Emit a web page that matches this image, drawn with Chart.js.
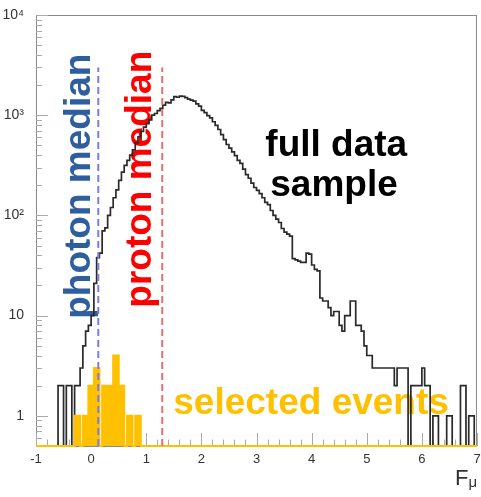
<!DOCTYPE html>
<html>
<head>
<meta charset="utf-8">
<script src="https://cdn.jsdelivr.net/npm/chart.js@4.4.1/dist/chart.umd.min.js"></script>
<style>
  html, body { margin: 0; padding: 0; background: #fff; }
  canvas { display: block; }
</style>
</head>
<body>
<canvas id="fmuChart" width="481" height="497"></canvas>
<script>
// F_mu distribution: full data sample vs selected events, log y

// histogram binning (160 bins from -1 to 7)
const binStart = -1;
const binWidth = 0.05;

// full data sample, counts per bin
const fullCounts = [
    0, 0, 0, 0, 0, 0, 0, 0, 2, 2,
    0, 2, 2, 0, 2, 2, 3, 5, 7, 8,
    10, 21, 38, 42, 70, 75, 100, 120, 150, 180,
    224, 270, 316, 355, 400, 450, 530, 607, 690, 760,
    825, 900, 1000, 1040, 1110, 1170, 1260, 1340, 1330, 1420,
    1530, 1510, 1550, 1540, 1500, 1450, 1413, 1380, 1300, 1230,
    1120, 1060, 990, 940, 860, 790, 720, 640, 570, 510,
    470, 430, 395, 355, 330, 290, 255, 235, 210, 190,
    178, 165, 150, 135, 128, 112, 100, 92, 85, 74,
    68, 65, 62, 37, 36, 35, 34, 34, 42, 41,
    32, 29, 28, 15, 14, 14, 12, 10, 11, 11,
    8, 7, 10, 10, 14, 14, 8, 8, 7, 5,
    4, 4, 3, 3, 3, 3, 3, 3, 3, 3,
    2, 3, 3, 3, 3, 0, 2, 2, 2, 2,
    3, 2, 2, 0, 1, 1, 0, 0, 0, 1,
    1, 0, 0, 0, 2, 2, 0, 1, 1, 0
];

// selected events, counts per bin
const selectedCounts = [
    0, 0, 0, 0, 0, 0, 0, 0, 0, 0,
    0, 0, 0, 0, 1, 1, 0, 1, 1, 2,
    2, 3, 3, 0, 2, 2, 2, 2, 4, 4,
    2, 2, 0, 1, 1, 0, 1, 1, 0, 0,
    0, 0, 0, 0, 0, 0, 0, 0, 0, 0,
    0, 0, 0, 0, 0, 0, 0, 0, 0, 0,
    0, 0, 0, 0, 0, 0, 0, 0, 0, 0,
    0, 0, 0, 0, 0, 0, 0, 0, 0, 0,
    0, 0, 0, 0, 0, 0, 0, 0, 0, 0,
    0, 0, 0, 0, 0, 0, 0, 0, 0, 0,
    0, 0, 0, 0, 0, 0, 0, 0, 0, 0,
    0, 0, 0, 0, 0, 0, 0, 0, 0, 0,
    0, 0, 0, 0, 0, 0, 0, 0, 0, 0,
    0, 0, 0, 0, 0, 0, 0, 0, 0, 0,
    0, 0, 0, 0, 0, 0, 0, 0, 0, 0,
    0, 0, 0, 0, 0, 0, 0, 0, 0, 0
];

// median markers
const photonMedian = 0.13;
const protonMedian = 1.29;
const medianTop = 3000;

// axes
const xTickValues = [-1, 0, 1, 2, 3, 4, 5, 6, 7];
const xTickLabels = ["-1", "0", "1", "2", "3", "4", "5", "6", "7"];
const yTickValues = [1, 10, 100, 1000, 10000];
const yTickLabels = ["1", "10", "10\u00b2", "10\u00b3", "10\u2074"];
const yMin = 0.5;
const yMax = 10000;

// text placed in data coordinates
const notes = [
    { text: "photon median", x: -0.02, y: 9.3, color: "#2e5e9e", rotate: true },
    { text: "proton median", x: 1.09, y: 12, color: "#ff0000", rotate: true },
    { text: "full data", x: 3.16, y: 389, color: "#000000" },
    { text: "sample", x: 3.25, y: 155, color: "#000000" },
    { text: "selected events", x: 1.49, y: 1.05, color: "#ffc000" }
];

const FONT = "'Liberation Sans', Arial, sans-serif";

// histogram counts -> stepped line points (left bin edges, plus closing edge)
const toSteps = counts => {
    const pts = counts.map((c, i) => ({ x: binStart + i * binWidth, y: Math.max(c, yMin) }));
    pts.push({ x: binStart + counts.length * binWidth, y: Math.max(counts[counts.length - 1], yMin) });
    return pts;
};

// ROOT-like frame, inner ticks, annotations and axis title
const rootStyle = {
    id: "rootStyle",
    beforeDatasetsDraw(chart) {
        const { ctx, chartArea: a, scales: { x, y } } = chart;
        ctx.save();

        ctx.strokeStyle = "#8a8a8a";
        ctx.lineWidth = 1;
        ctx.strokeRect(a.left + 0.5, a.top + 0.5, a.right - a.left - 1, a.bottom - a.top);

        ctx.strokeStyle = "#aaaaaa";
        ctx.beginPath();
        for (let k = 0; k <= 40; k++) {
            const px = Math.round(x.getPixelForValue(-1 + k * 0.2)) + 0.5;
            const len = k % 5 === 0 ? 13 : 6.5;
            ctx.moveTo(px, a.bottom);
            ctx.lineTo(px, a.bottom - len);
        }
        for (let e = -1; e <= 4; e++) {
            for (let m = 1; m <= 9; m++) {
                const v = m * Math.pow(10, e);
                if (v < yMin - 1e-9 || v > yMax + 1e-9) continue;
                const py = Math.round(y.getPixelForValue(v)) + 0.5;
                ctx.moveTo(a.left, py);
                ctx.lineTo(a.left + (m === 1 ? 12 : 6), py);
            }
        }
        ctx.stroke();

        ctx.font = "bold 37px " + FONT;
        ctx.textAlign = "left";
        ctx.textBaseline = "alphabetic";
        notes.forEach(n => {
            const px = x.getPixelForValue(n.x);
            const py = y.getPixelForValue(n.y);
            ctx.fillStyle = n.color;
            ctx.save();
            ctx.translate(px, py);
            if (n.rotate) ctx.rotate(-Math.PI / 2);
            ctx.fillText(n.text, 0, 0);
            ctx.restore();
        });

        // axis title F_mu
        ctx.fillStyle = "#333333";
        ctx.font = "22px " + FONT;
        ctx.fillText("F", 455, 485);
        const fw = ctx.measureText("F").width;
        ctx.font = "15px " + FONT;
        ctx.fillText("\u03bc", 455 + fw, 487);

        ctx.restore();
    }
};

new Chart(document.getElementById("fmuChart"), {
    type: "line",
    data: {
        datasets: [
            {
                label: "photon median",
                data: [{ x: photonMedian, y: yMin }, { x: photonMedian, y: medianTop }],
                borderColor: "#7b7bec",
                borderWidth: 2,
                borderDash: [7, 4],
                order: 0
            },
            {
                label: "proton median",
                data: [{ x: protonMedian, y: yMin }, { x: protonMedian, y: medianTop }],
                borderColor: "#e67070",
                borderWidth: 2,
                borderDash: [7, 4],
                order: 0
            },
            {
                label: "selected events",
                data: toSteps(selectedCounts),
                stepped: true,
                borderColor: "#ffc000",
                backgroundColor: "#ffc000",
                borderWidth: 2,
                fill: "start",
                clip: false,
                order: 1
            },
            {
                label: "full data sample",
                data: toSteps(fullCounts),
                stepped: true,
                borderColor: "#2a2a2a",
                borderWidth: 1.7,
                fill: false,
                order: 2
            }
        ]
    },
    options: {
        responsive: false,
        animation: false,
        events: [],
        layout: { padding: { top: 15, right: 4, left: 0, bottom: 0 } },
        elements: { point: { radius: 0 }, line: { tension: 0 } },
        plugins: { legend: { display: false }, tooltip: { enabled: false } },
        scales: {
            x: {
                type: "linear",
                min: -1,
                max: 7,
                afterBuildTicks: s => { s.ticks = xTickValues.map(v => ({ value: v })); },
                afterFit: s => { s.height = 51; },
                ticks: {
                    callback: (v, i) => xTickLabels[i],
                    font: { family: FONT, size: 13 },
                    color: "#333333",
                    padding: -2,
                    maxRotation: 0,
                    autoSkip: false
                },
                grid: { display: false },
                border: { display: false }
            },
            y: {
                type: "logarithmic",
                min: yMin,
                max: yMax,
                afterBuildTicks: s => { s.ticks = yTickValues.map(v => ({ value: v })); },
                afterFit: s => { s.width = 36; },
                ticks: {
                    callback: (v, i) => yTickLabels[i],
                    font: { family: FONT, size: 14 },
                    color: "#333333",
                    padding: 4,
                    autoSkip: false
                },
                grid: { display: false },
                border: { display: false }
            }
        }
    },
    plugins: [rootStyle]
});
</script>
</body>
</html>
